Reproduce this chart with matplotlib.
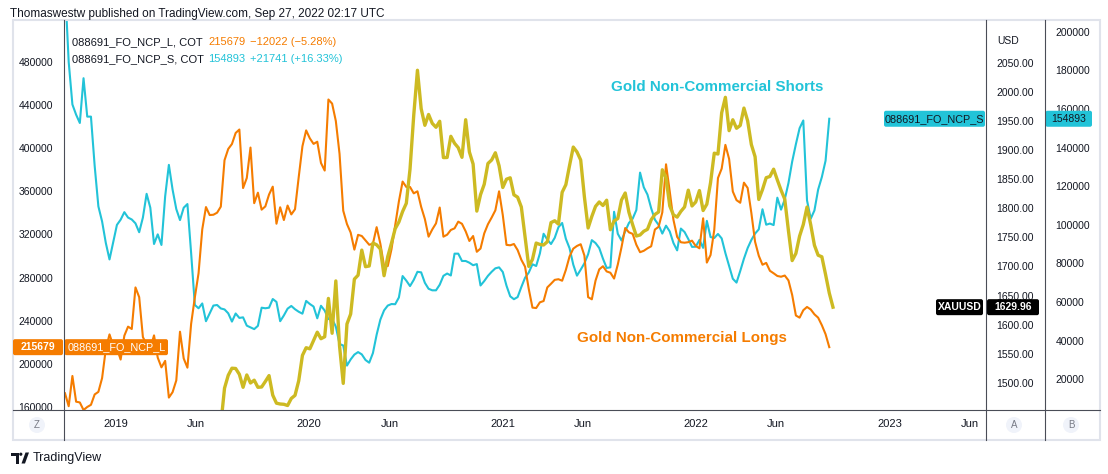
import numpy as np
import pandas as pd
import matplotlib
matplotlib.use('Agg')
import matplotlib.pyplot as plt
from matplotlib.patches import Rectangle, FancyBboxPatch, Circle, Polygon

plt.rcParams['font.family'] = ['Liberation Sans', 'DejaVu Sans']

# ---------------- data (weekly) ----------------
start_date = '2018-09-28'

# 088691_FO_NCP_S  (Gold non-commercial shorts), thousands of contracts
shorts_k = [
    224, 184.3, 162.3, 157.0, 152.7, 175.9, 156.0, 156.0, 130.5, 109.5,
    101.7, 90.6, 82, 91.0, 99.9, 102.6, 106.5, 103.7, 102.7, 100.7,
    96.1, 103.7, 116, 108.8, 90, 95, 89.5, 114.7, 131, 118.2,
    108.1, 102.4, 108.8, 110.7, 85.3, 58.4, 56.7, 59.2, 50, 54.1,
    58.1, 58.4, 56.6, 56.1, 54.1, 49.8, 54, 51.7, 52.0, 47.7,
    46.8, 45.9, 47.6, 57, 56.7, 57.0, 61.5, 60, 50, 53,
    56.5, 57.9, 56.2, 54.9, 53.9, 60.5, 58.9, 57.6, 51.5, 58,
    55.5, 51.1, 51.2, 47.2, 38.2, 37.4, 27, 30.2, 32.7, 34.0,
    32.8, 29.9, 28.5, 33.5, 43.0, 50.8, 55.6, 58.1, 58.9, 58.8,
    62.3, 73.4, 71.0, 68.2, 71.4, 75.6, 75.3, 69.9, 66.8, 66.0,
    66.0, 68.9, 73.5, 74.7, 73.7, 85, 85.0, 81.2, 81.2, 80.3,
    79.0, 79.6, 68.5, 70.8, 73.5, 75.6, 77.4, 77.9, 75.5, 68.4,
    62.9, 61.4, 62.5, 67.7, 72.5, 75.2, 79.5, 78.6, 85.1, 95.3,
    92.3, 90.0, 93.2, 98.7, 100.9, 92.7, 87.8, 79.3, 73.6, 76.7,
    80.0, 84.7, 92, 90.5, 87.9, 82.4, 77.6, 77.9, 106.7, 95.3,
    91.8, 96.6, 100.9, 103.1, 107.6, 127, 119.4, 115.6, 108.5, 102.6,
    99.9, 95.4, 99.5, 96.5, 90.5, 86.7, 98, 96.2, 92.6, 88.5,
    88.6, 92.1, 88, 102, 93.6, 93.1, 95.2, 92.9, 85.3, 78.7,
    72, 70, 76.0, 82.4, 87.9, 92.1, 95.4, 97.6, 108, 100.0,
    100.6, 99.8, 114, 107.8, 113.1, 121.6, 132.7, 141.7, 150, 154,
    112.6, 103.1, 107.4, 118.2, 124.7, 133.152, 154.893,
]

# 088691_FO_NCP_L  (Gold non-commercial longs), thousands of contracts
longs_k = [
    173, 161, 189, 165.2, 164.5, 157.5, 160.3, 162.3, 171.9, 174.3,
    187.0, 213.8, 227.5, 217.1, 214.6, 204.2, 226.3, 234.7, 232.5, 271,
    262, 225.0, 218.2, 214.7, 226.6, 206, 197, 203, 169, 174,
    184.9, 230, 205.2, 196.7, 237.3, 261.8, 284.1, 324.8, 345.4, 338.0,
    338.3, 340.2, 345.8, 388.8, 399.2, 403.8, 414.0, 417.2, 363, 372.3,
    400.5, 349, 358.7, 343, 346.0, 357.0, 364.3, 330, 345.2, 333.4,
    346.8, 338.6, 343.4, 373.2, 401.7, 416.4, 409.0, 403.9, 405.9, 386.2,
    379.2, 445, 441.2, 425.1, 394.7, 342.0, 329.7, 321.8, 306.0, 319.7,
    318.6, 314.5, 310.5, 311.5, 326.8, 311.5, 290.8, 290.8, 306.3, 328.2,
    350.7, 369, 364.0, 364.0, 358.1, 360.0, 345.6, 334.3, 318, 324.7,
    330.3, 345, 318, 319.8, 324.2, 325.7, 331.9, 329.9, 322.9, 314.0,
    318.6, 304, 307, 321.0, 329.5, 335.7, 342.4, 360, 338, 310.4,
    310.0, 311.2, 305.6, 296.6, 290.2, 269.6, 252.3, 251.9, 257.2, 258.4,
    271.0, 274.4, 278.0, 278.6, 277.2, 287.2, 299.7, 306.9, 309.4, 311.0,
    300.5, 262, 260, 277.3, 287.7, 290.6, 285.8, 284.6, 279.2, 292.2,
    308.2, 326, 322, 320.6, 310.5, 303.6, 304.9, 307.2, 309.1, 324.6,
    327.1, 340.5, 385, 359.9, 333.6, 317.8, 312.8, 312.4, 312.9, 314.3,
    309.4, 307.2, 335, 294, 301, 324.2, 372.3, 381.0, 403, 390,
    359.8, 351.8, 349.4, 368, 363.1, 339.9, 313.3, 300.3, 292.0, 293.7,
    286.4, 284.1, 281.6, 280.9, 282.0, 277.5, 264.0, 245, 243, 249.9,
    252.9, 250.6, 246.1, 243.0, 236, 227.701, 215.679,
]

# XAUUSD weekly close, USD
gold_usd = [
    1196, 1203, 1188, 1218, 1228, 1233, 1215, 1232, 1210, 1223,
    1222, 1238, 1233, 1248, 1256, 1282, 1286, 1292, 1282, 1298,
    1322, 1318, 1314, 1322, 1329, 1295, 1299, 1302, 1313, 1295,
    1291, 1276, 1284, 1281, 1283, 1277, 1306, 1341, 1399, 1410,
    1400, 1416, 1428, 1490.8, 1512.9, 1525.1, 1524.6, 1514.6, 1492.3, 1513.5,
    1499.7, 1504.5, 1492.3, 1492.8, 1502.3, 1512.4, 1478.8, 1465, 1463.6, 1463.1,
    1461.0, 1473.2, 1478.4, 1503.5, 1547.1, 1560.3, 1558.4, 1572.7, 1587.0, 1575.8,
    1579.1, 1645, 1585.1, 1675, 1563.5, 1499, 1601, 1618.2, 1678.2, 1684.9,
    1728, 1699.5, 1700.7, 1740.2, 1737.1, 1729.9, 1684, 1717.0, 1739.9, 1764.8,
    1776.3, 1794.3, 1808.4, 1867.2, 1959.6, 2037, 1971.1, 1942.4, 1961.0, 1945.7,
    1939, 1949.3, 1886.9, 1887.1, 1923.5, 1911.5, 1903.9, 1887.4, 1952, 1896.6,
    1875.9, 1795, 1823.2, 1841.1, 1876.8, 1882.8, 1895.2, 1872.9, 1835.6, 1849.8,
    1852.2, 1823.0, 1818.9, 1802.1, 1750.9, 1700, 1712, 1740.1, 1737.7, 1736.8,
    1742.3, 1775.3, 1778.4, 1772.7, 1827.3, 1840.4, 1873.5, 1905, 1896.6, 1882.8,
    1819.3, 1766, 1785.8, 1803.1, 1810.7, 1804.6, 1813.7, 1763, 1778, 1782.3,
    1814.1, 1826.1, 1793.0, 1771.7, 1752.2, 1754, 1760.3, 1763.7, 1780.1, 1789.2,
    1793.5, 1866, 1852.2, 1804, 1788.5, 1784.7, 1794.5, 1802.1, 1831, 1803.8,
    1810.7, 1830.3, 1796, 1806.9, 1843.8, 1894.5, 1893.1, 1963.9, 1990.5, 1933.2,
    1951.9, 1937.3, 1942.1, 1972, 1950, 1909.3, 1888.5, 1815, 1832, 1852.4,
    1854.5, 1867, 1848.5, 1831, 1815.6, 1761, 1710, 1722.3, 1752.1, 1772.0,
    1802, 1771.5, 1736.3, 1719.2, 1716.5, 1686.1, 1654.3, 1629.96,
]

last_long, chg_long, pct_long = 215679, -12022, -5.28
last_short, chg_short, pct_short = 154893, 21741, 16.33
last_gold = 1629.96

time_ticks = ['2019-01-01', '2019-06-01', '2020-01-01', '2020-06-01', '2021-01-01',
              '2021-06-01', '2022-01-01', '2022-06-01', '2023-01-01', '2023-06-01']
time_labels = ['2019', 'Jun', '2020', 'Jun', '2021', 'Jun', '2022', 'Jun', '2023', 'Jun']
long_ticks = list(range(160000, 480001, 40000))
short_ticks = list(range(20000, 200001, 20000))
gold_ticks = list(range(1500, 2051, 50))

# ---------------- style ----------------
W, H = 1108, 474
C_CYAN = '#22C3D8'
C_ORANGE = '#F57C00'
C_GOLD = '#CDBA22'
C_TEXT = '#131722'
C_SEP = '#4A4D57'

fig = plt.figure(figsize=(W / 100, H / 100), dpi=100)
fig.patch.set_facecolor('white')

L, R, T, B = 63.5, 986.0, 21.0, 410.0
ax = fig.add_axes([L / W, 1 - B / H, (R - L) / W, (B - T) / H])
axA = ax.twinx()
axB = ax.twinx()
for a in (ax, axA, axB):
    a.patch.set_visible(False)
    for s in a.spines.values():
        s.set_visible(False)
axB.set_zorder(1)
ax.set_zorder(2)
axA.set_zorder(3)

dates = pd.date_range(start_date, periods=len(gold_usd), freq='7D')
shorts = np.array(shorts_k) * 1000
longs = np.array(longs_k) * 1000

axB.plot(dates[:len(shorts)], shorts, color=C_CYAN, lw=1.5, solid_joinstyle='round')
ax.plot(dates[:len(longs)], longs, color=C_ORANGE, lw=1.5, solid_joinstyle='round')
axA.plot(dates, gold_usd, color=C_GOLD, lw=2.4, solid_joinstyle='round')

ax.set_xlim(dates[0] - pd.Timedelta(days=2.8), dates[0] + pd.Timedelta(days=1737.7))
ax.set_ylim(157500, 517685)
axB.set_ylim(3992, 205544)
axA.set_ylim(1453.3, 2121.6)

ax.set_xticks(pd.to_datetime(time_ticks))
ax.set_xticklabels(time_labels)
ax.tick_params(axis='x', length=0, pad=6.5, labelsize=8, labelcolor=C_TEXT)

ax.set_yticks(long_ticks)
ax.set_yticklabels([f'{v}' for v in long_ticks])
ax.tick_params(axis='y', length=0, pad=7.5, labelsize=7.5, labelcolor=C_TEXT)

axA.set_yticks(gold_ticks)
axA.set_yticklabels([f'{v:.2f}' for v in gold_ticks])
axA.tick_params(axis='y', length=0, pad=7.3, labelsize=7.5, labelcolor=C_TEXT)

axB.spines['right'].set_position(('axes', (1044.5 - L) / (R - L)))
axB.set_yticks(short_ticks)
axB.set_yticklabels([f'{v}' for v in short_ticks])
axB.tick_params(axis='y', length=0, pad=7.8, labelsize=7.5, labelcolor=C_TEXT)

# ---------------- overlay (pixel coords) ----------------
ov = fig.add_axes([0, 0, 1, 1])
ov.set_xlim(0, W)
ov.set_ylim(H, 0)
ov.axis('off')
ov.patch.set_visible(False)
ov.set_zorder(10)


def ypix(a, v):
    return H - a.transData.transform((0, v))[1]


# frame and separators
ov.add_patch(Rectangle((13, 20), 1087, 420, fill=False, ec='#E0E3EB', lw=1.5))
for xs in (63.5, 986.0, 1044.5):
    ov.plot([xs, xs], [20, 440], color=C_SEP, lw=0.8)
ov.plot([13, 1100], [410, 410], color=C_SEP, lw=0.8)

# scale buttons
for xb, ch in ((37, 'Z'), (1014, 'A'), (1071, 'B')):
    ov.add_patch(Circle((xb, 425), 8, fc='#F0F3FA', ec='none'))
    ov.text(xb, 425.5, ch, ha='center', va='center', fontsize=7, color='#787B86')


def tag(x0, x1, yc, face, text, color='white', weight='bold', size=7.5):
    ov.add_patch(FancyBboxPatch((x0, yc - 8), x1 - x0, 16,
                                boxstyle='round,pad=0,rounding_size=2',
                                fc=face, ec='none'))
    ov.text((x0 + x1) / 2, yc, text, ha='center', va='center',
            color=color, fontsize=size, fontweight=weight)


yO = ypix(ax, last_long)
yS = ypix(axB, last_short)
yG = ypix(axA, last_gold)
tag(13, 63, yO, C_ORANGE, f'{last_long}')
tag(64.5, 168, yO, C_ORANGE, '088691_FO_NCP_L', weight='normal', size=7.8)
tag(884, 985, yS, C_CYAN, '088691_FO_NCP_S', color=C_TEXT, weight='normal', size=7.8)
tag(1045.5, 1092, yS, C_CYAN, f'{last_short}', color=C_TEXT, weight='normal')
tag(936, 983, yG, 'black', 'XAUUSD')
tag(987, 1039, yG, 'black', f'{last_gold:.2f}')

ov.text(997, 41, 'USD', fontsize=7.5, va='center', color=C_TEXT)

# annotations
ov.text(717, 87, 'Gold Non-Commercial Shorts', ha='center', va='center',
        fontsize=10.9, fontweight='bold', color=C_CYAN)
ov.text(682, 338, 'Gold Non-Commercial Longs', ha='center', va='center',
        fontsize=10.9, fontweight='bold', color=C_ORANGE)

# legend
ov.text(72, 42, '088691_FO_NCP_L, COT', va='center', fontsize=8, color=C_TEXT)
ov.text(208, 42, f'{last_long}', va='center', fontsize=8, color=C_ORANGE)
ov.text(250, 42, f'\u2212{abs(chg_long)} (\u2212{abs(pct_long):.2f}%)', va='center',
        fontsize=8, color=C_ORANGE)
ov.text(72, 59, '088691_FO_NCP_S, COT', va='center', fontsize=8, color=C_TEXT)
ov.text(208, 59, f'{last_short}', va='center', fontsize=8, color=C_CYAN)
ov.text(250, 59, f'+{chg_short} (+{pct_short:.2f}%)', va='center',
        fontsize=8, color=C_CYAN)

# header and footer
ov.text(10, 14, 'Thomaswestw published on TradingView.com, Sep 27, 2022 02:17 UTC',
        va='center', fontsize=8.5, color=C_TEXT)
ov.add_patch(Polygon([(11, 452.5), (18.5, 452.5), (18.5, 463.5), (15.5, 463.5),
                      (15.5, 455.5), (11, 455.5)], closed=True, fc=C_TEXT, ec='none'))
ov.add_patch(Circle((20.8, 454.2), 1.6, fc=C_TEXT, ec='none'))
ov.add_patch(Polygon([(21.5, 463.5), (25.5, 452.5), (29, 452.5), (25, 463.5)],
                     closed=True, fc=C_TEXT, ec='none'))
ov.text(33, 458, 'TradingView', va='center', fontsize=9, color=C_TEXT)

fig.savefig('out.png', dpi=100, facecolor='white')
